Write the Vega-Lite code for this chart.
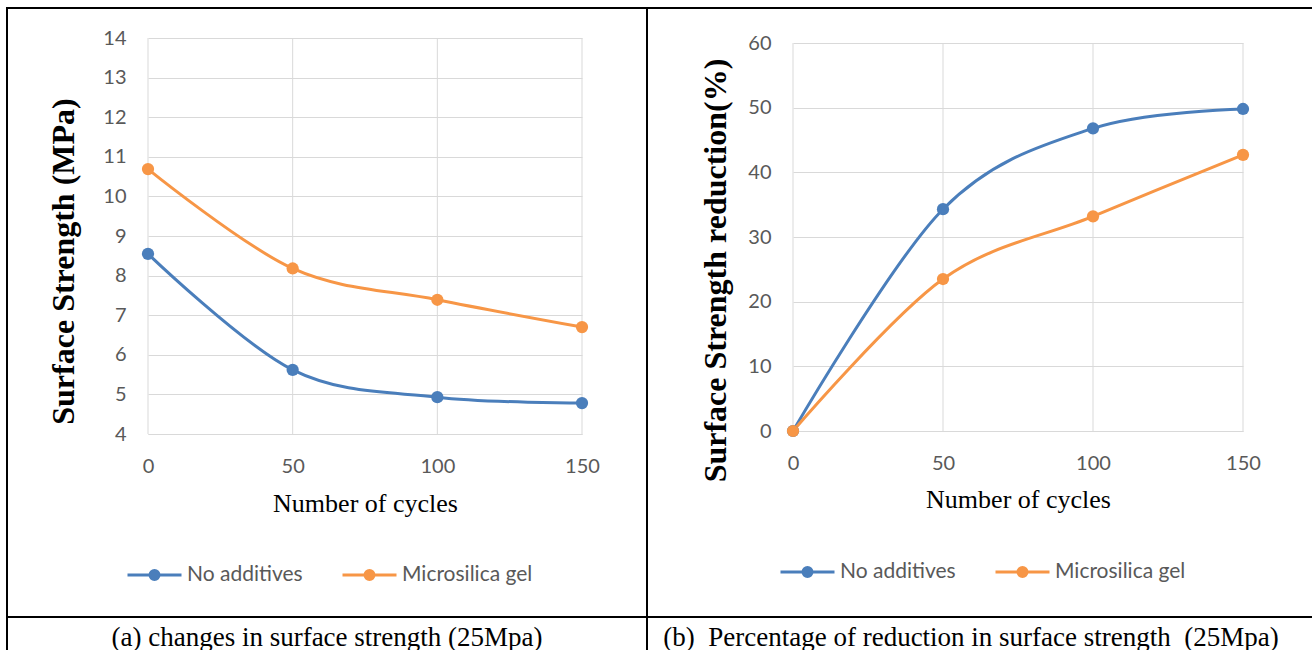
{
  "$schema": "https://vega.github.io/schema/vega-lite/v6.json",
  "background": "white",
  "padding": {"left": 6, "top": 7, "right": 0, "bottom": 0},
  "config": {
    "view": {"stroke": "#000000", "strokeWidth": 2},
    "axis": {
      "labelFont": "Lato", "labelFontSize": 20, "labelColor": "#595959",
      "titleFont": "Liberation Serif", "titleColor": "#000000",
      "ticks": false, "tickSize": 0, "labelPadding": 22,
      "gridColor": "#d9d9d9", "gridWidth": 1, "domainColor": "#d9d9d9", "domainWidth": 1,
      "labelFlush": false, "labelOverlap": false, "labelBound": false
    }
  },
  "columns": 2,
  "spacing": 0,
  "bounds": "flush",
  "resolve": {"scale": {"x": "independent", "y": "independent", "color": "independent"}, "legend": {"color": "independent"}},
  "concat": [
    {
      "width": 640,
      "height": 609,
      "data": {"values": [
        {"cycles": 0, "strength": 8.55, "series": "No additives"},
        {"cycles": 50, "strength": 5.62, "series": "No additives"},
        {"cycles": 100, "strength": 4.93, "series": "No additives"},
        {"cycles": 150, "strength": 4.78, "series": "No additives"},
        {"cycles": 0, "strength": 10.69, "series": "Microsilica gel"},
        {"cycles": 50, "strength": 8.18, "series": "Microsilica gel"},
        {"cycles": 100, "strength": 7.39, "series": "Microsilica gel"},
        {"cycles": 150, "strength": 6.7, "series": "Microsilica gel"}
      ]},
      "encoding": {
        "x": {"field": "cycles", "type": "quantitative",
          "scale": {"domain": [0, 150], "range": [141, 575], "nice": false, "zero": false},
          "axis": {"values": [0, 50, 100, 150], "title": "Number of cycles", "titleFontSize": 26, "titleFontWeight": "normal", "offset": -183, "grid": false, "domain": true, "titlePadding": 14}},
        "y": {"field": "strength", "type": "quantitative",
          "scale": {"domain": [4, 14], "range": [426, 30], "nice": false, "zero": false},
          "axis": {"values": [4, 5, 6, 7, 8, 9, 10, 11, 12, 13, 14], "title": "Surface Strength (MPa)", "titleFontSize": 32, "titleFontWeight": "bold", "offset": -141, "grid": true, "domain": false, "titlePadding": 22, "titleY": 253}},
        "color": {"field": "series", "type": "nominal",
          "scale": {"domain": ["No additives", "Microsilica gel"], "range": ["#4a7ebb", "#f79646"]},
          "legend": {"orient": "none", "legendX": 119, "legendY": 538, "direction": "horizontal", "title": null,
            "symbolType": "M-1,0L1,0M-0.0556,0A0.0556,0.0556,0,1,0,0.0556,0A0.0556,0.0556,0,1,0,-0.0556,0M-0.1667,0A0.1667,0.1667,0,1,0,0.1667,0A0.1667,0.1667,0,1,0,-0.1667,0",
            "symbolSize": 2916, "symbolStrokeWidth": 3, "symbolOpacity": 1, "labelOffset": 4, "columnPadding": 33,
            "labelFont": "Lato", "labelFontSize": 21, "labelColor": "#595959", "padding": 0}}
      },
      "layer": [
        {"transform": [{"filter": "datum.series == 'No additives'"}],
         "mark": {"type": "rule", "strokeWidth": 1},
         "encoding": {"y": {"datum": 4}, "y2": {"datum": 14}, "color": {"value": "#d9d9d9"}}},
        {"mark": {"type": "line", "interpolate": "cardinal", "strokeWidth": 3}},
        {"mark": {"type": "circle", "size": 150, "opacity": 1}}
      ]
    },
    {
      "width": 666,
      "height": 609,
      "data": {"values": [
        {"cycles": 0, "reduction": 0, "series": "No additives"},
        {"cycles": 50, "reduction": 34.3, "series": "No additives"},
        {"cycles": 100, "reduction": 46.8, "series": "No additives"},
        {"cycles": 150, "reduction": 49.8, "series": "No additives"},
        {"cycles": 0, "reduction": 0, "series": "Microsilica gel"},
        {"cycles": 50, "reduction": 23.5, "series": "Microsilica gel"},
        {"cycles": 100, "reduction": 33.2, "series": "Microsilica gel"},
        {"cycles": 150, "reduction": 42.7, "series": "Microsilica gel"}
      ]},
      "encoding": {
        "x": {"field": "cycles", "type": "quantitative",
          "scale": {"domain": [0, 150], "range": [146, 596], "nice": false, "zero": false},
          "axis": {"values": [0, 50, 100, 150], "title": "Number of cycles", "titleFontSize": 26, "titleFontWeight": "normal", "offset": -186, "grid": false, "domain": true, "titlePadding": 13}},
        "y": {"field": "reduction", "type": "quantitative",
          "scale": {"domain": [0, 60], "range": [423, 35], "nice": false, "zero": false},
          "axis": {"values": [0, 10, 20, 30, 40, 50, 60], "title": "Surface Strength reduction(%)", "titleFontSize": 32, "titleFontWeight": "bold", "offset": -146, "grid": true, "domain": false, "titlePadding": 15, "titleY": 262}},
        "color": {"field": "series", "type": "nominal",
          "scale": {"domain": ["No additives", "Microsilica gel"], "range": ["#4a7ebb", "#f79646"]},
          "legend": {"orient": "none", "legendX": 132, "legendY": 535, "direction": "horizontal", "title": null,
            "symbolType": "M-1,0L1,0M-0.0556,0A0.0556,0.0556,0,1,0,0.0556,0A0.0556,0.0556,0,1,0,-0.0556,0M-0.1667,0A0.1667,0.1667,0,1,0,0.1667,0A0.1667,0.1667,0,1,0,-0.1667,0",
            "symbolSize": 2916, "symbolStrokeWidth": 3, "symbolOpacity": 1, "labelOffset": 4, "columnPadding": 33,
            "labelFont": "Lato", "labelFontSize": 21, "labelColor": "#595959", "padding": 0}}
      },
      "layer": [
        {"transform": [{"filter": "datum.series == 'No additives'"}],
         "mark": {"type": "rule", "strokeWidth": 1},
         "encoding": {"y": {"datum": 0}, "y2": {"datum": 60}, "color": {"value": "#d9d9d9"}}},
        {"mark": {"type": "line", "interpolate": "cardinal", "strokeWidth": 3}},
        {"mark": {"type": "circle", "size": 150, "opacity": 1}}
      ]
    },
    {
      "width": 640,
      "height": 42,
      "view": {"stroke": "#000000", "strokeWidth": 2},
      "data": {"values": [{"caption": "(a) changes in surface strength (25Mpa)"}]},
      "mark": {"type": "text", "font": "Liberation Serif", "fontSize": 27, "color": "#000000"},
      "encoding": {
        "x": {"field": "caption", "type": "nominal", "axis": null},
        "y": {"field": "caption", "type": "nominal", "axis": null},
        "text": {"field": "caption"}
      }
    },
    {
      "width": 666,
      "height": 42,
      "view": {"stroke": "#000000", "strokeWidth": 2},
      "data": {"values": [{"caption": "(b) \u00a0Percentage of reduction in surface strength \u00a0(25Mpa)"}]},
      "mark": {"type": "text", "font": "Liberation Serif", "fontSize": 27, "color": "#000000", "dx": -9},
      "encoding": {
        "x": {"field": "caption", "type": "nominal", "axis": null},
        "y": {"field": "caption", "type": "nominal", "axis": null},
        "text": {"field": "caption"}
      }
    }
  ]
}
